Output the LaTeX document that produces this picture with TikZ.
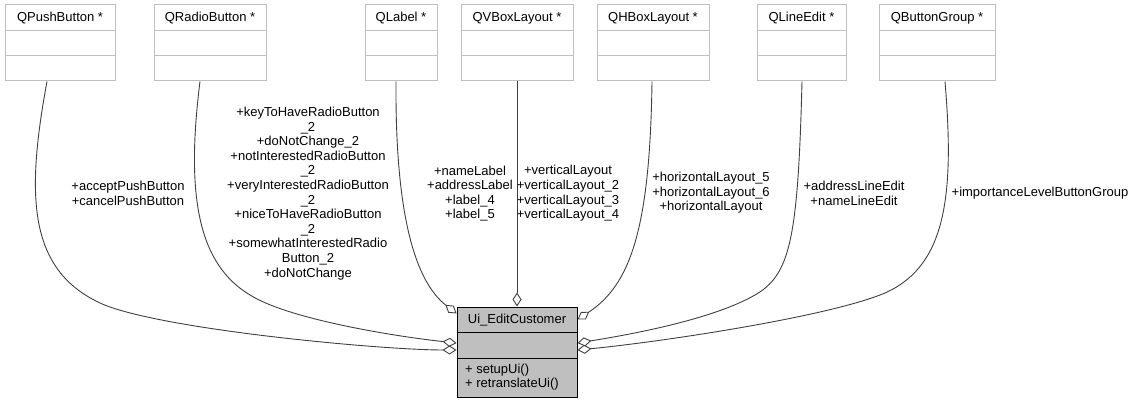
\documentclass[tikz,border=0pt]{standalone}
\usepackage{fontspec}
\setmainfont{Liberation Sans}
\usetikzlibrary{arrows.meta}
\definecolor{edgecol}{HTML}{404040}
\definecolor{clsborder}{HTML}{BFBFBF}
\definecolor{uifill}{HTML}{BFBFBF}
\begin{document}
\begin{tikzpicture}[x=1pt,y=-1pt,
  every node/.style={font=\fontsize{13}{14.6}\selectfont, inner sep=0pt},
  clsbox/.style={draw=clsborder, line width=1pt, fill=white, minimum height=76pt},
  divider/.style={draw=clsborder, line width=1pt},
  conn/.style={draw=edgecol, line width=0.9pt, -{Diamond[open, length=14pt, width=9pt]}},
  lbl/.style={align=center},
]
\useasboundingbox (0,0) rectangle (1133,404);

% top classes
\foreach \n/\cx/\w/\t in {pb/60/110/QPushButton *, rb/210/112/QRadioButton *, lb/401/72/QLabel *, vb/517/112/QVBoxLayout *, hb/653/112/QHBoxLayout *, le/801.5/89/QLineEdit *, bg/937/116/QButtonGroup *}{
  \node[clsbox, minimum width=\w pt] (\n) at (\cx,43) {};
  \draw[divider] ([yshift=12pt]\n.west) -- ([yshift=12pt]\n.east);
  \draw[divider] ([yshift=-13pt]\n.west) -- ([yshift=-13pt]\n.east);
  \node (\n-t) at ([yshift=25pt]\n.center) {\t};
}

% central class
\node[draw=black, fill=uifill, line width=1pt, minimum width=120pt, minimum height=90pt] (ui) at (517,352) {};
\draw[black, line width=1pt] ([yshift=20pt]ui.west) -- ([yshift=20pt]ui.east);
\draw[black, line width=1pt] ([yshift=-6pt]ui.west) -- ([yshift=-6pt]ui.east);
\node (ui-t) at ([yshift=32pt]ui.center) {Ui\_EditCustomer};
\node[anchor=west, align=left] (ui-m) at (465,377) {+ setupUi()\\+ retranslateUi()};

% connectors
\draw[conn] ([xshift=-13pt]pb.south) .. controls (25,200) and (30,270) .. (100,303)
  .. controls (156,329) and (380,350) .. ([yshift=2pt]ui.west);
\draw[conn] ([xshift=-10pt]rb.south) .. controls (185,200) and (200,265) .. (250,295)
  .. controls (290,320) and (400,337) .. ([yshift=9pt]ui.west);
\draw[conn] ([xshift=-5pt]lb.south) .. controls (395,230) and (420,285) .. ([yshift=-7pt]ui.north west);
\draw[conn] (vb.south) -- (ui.north);
\draw[conn] ([xshift=-1pt]hb.south) .. controls (650,230) and (630,285) .. ([yshift=-13pt]ui.north east);
\draw[conn] ([xshift=0.5pt]le.south) .. controls (798,240) and (790,275) .. (755,295)
  .. controls (715,318) and (640,333) .. ([yshift=9pt]ui.east);
\draw[conn] ([xshift=8pt]bg.south) .. controls (955,200) and (945,270) .. (880,295)
  .. controls (820,318) and (660,342) .. ([yshift=2pt]ui.east);

% labels
\node[lbl] (l-pb) at (128,193.5) {+acceptPushButton\\+cancelPushButton};
\node[lbl] (l-rb) at (308,193.5) {+keyToHaveRadioButton\\\_2\\+doNotChange\_2\\+notInterestedRadioButton\\\_2\\+veryInterestedRadioButton\\\_2\\+niceToHaveRadioButton\\\_2\\+somewhatInterestedRadio\\Button\_2\\+doNotChange};
\node[lbl] (l-lb) at (470,193.5) {+nameLabel\\+addressLabel\\+label\_4\\+label\_5};
\node[lbl] (l-vb) at (568,193.5) {+verticalLayout\\+verticalLayout\_2\\+verticalLayout\_3\\+verticalLayout\_4};
\node[lbl] (l-hb) at (711,193) {+horizontalLayout\_5\\+horizontalLayout\_6\\+horizontalLayout};
\node[lbl] (l-le) at (854,193.5) {+addressLineEdit\\+nameLineEdit};
\node[lbl] (l-bg) at (1040,193) {+importanceLevelButtonGroup};
\end{tikzpicture}
\end{document}
